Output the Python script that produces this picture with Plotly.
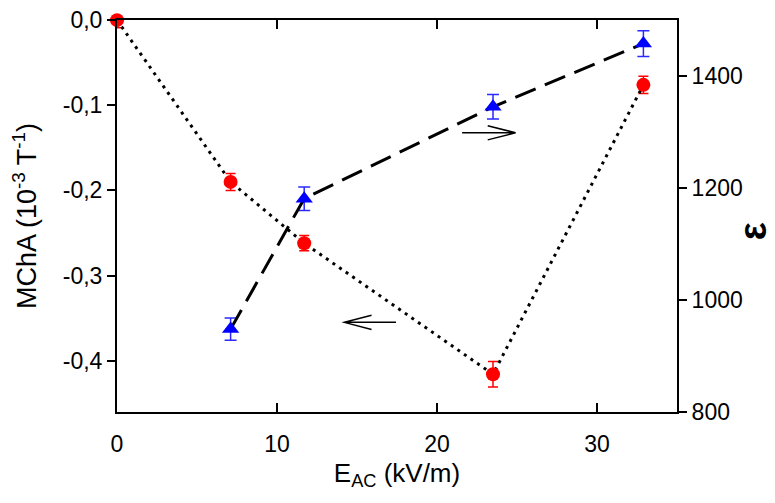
import plotly.graph_objects as go

# ---- data ----
e_ac = [0.0, 7.1, 11.7, 23.5, 32.9]
mcha = [0.0, -0.190, -0.262, -0.416, -0.076]
mcha_err = [0.009, 0.010, 0.009, 0.015, 0.010]

e_ac_eps = [7.1, 11.7, 23.5, 32.9]
eps = [948, 1181, 1345, 1458]
eps_err = [20, 21, 22, 23]

x_ticks = [0, 10, 20, 30]
x_ticktext = ["0", "10", "20", "30"]
y_ticks = [0.0, -0.1, -0.2, -0.3, -0.4]
y_ticktext = ["0,0", "-0,1", "-0,2", "-0,3", "-0,4"]
y2_ticks = [800, 1000, 1200, 1400]
y2_ticktext = ["800", "1000", "1200", "1400"]

# arrow annotations (data coords of left axis)
left_arrow = dict(x0=17.44, x1=14.21, y=-0.355, head=1.70, half=0.0083)
right_arrow = dict(x0=21.57, x1=24.91, y=-0.1323, head=1.74, half=0.0083)

FONT = "Liberation Sans, Arial, sans-serif"

fig = go.Figure()

fig.add_trace(go.Scatter(
    x=e_ac, y=mcha, mode="lines+markers", yaxis="y",
    line=dict(color="black", width=3, dash="3px,5px"),
    marker=dict(color="#ff0000", size=14, symbol="circle"),
    error_y=dict(type="data", array=mcha_err, color="#ff0000", thickness=1.5, width=5),
    cliponaxis=False, showlegend=False,
))

fig.add_trace(go.Scatter(
    x=e_ac_eps, y=eps, mode="lines+markers", yaxis="y2",
    line=dict(color="black", width=3, dash="22px,10px"),
    marker=dict(color="#0000ff", size=15, symbol="triangle-up"),
    error_y=dict(type="data", array=eps_err, color="#2a2aff", thickness=1.5, width=6),
    cliponaxis=False, showlegend=False,
))


def arrow_path(a):
    d = 1 if a["x1"] > a["x0"] else -1
    xb = a["x1"] - d * a["head"]
    return (f"M {a['x0']},{a['y']} L {a['x1']},{a['y']} "
            f"M {xb},{a['y'] + a['half']} L {a['x1']},{a['y']} L {xb},{a['y'] - a['half']}")


for a in (left_arrow, right_arrow):
    fig.add_shape(type="path", path=arrow_path(a), xref="x", yref="y",
                  line=dict(color="black", width=1.5))

fig.add_annotation(
    text="<b>ε</b>", xref="paper", yref="paper", x=1.135, y=0.46,
    xanchor="center", yanchor="middle",
    showarrow=False, textangle=-90, font=dict(family=FONT, size=38, color="black"),
)

# page body has an 8px margin, so the figure is sized/offset to compensate
fig.update_layout(
    width=759, height=487,
    margin=dict(l=109, r=90, t=12, b=83, autoexpand=False),
    paper_bgcolor="white", plot_bgcolor="white",
    font=dict(family=FONT, color="black"),
    showlegend=False,
    xaxis=dict(
        range=[0, 35], tickvals=x_ticks, ticktext=x_ticktext,
        ticks="inside", ticklen=9, tickwidth=1.5, tickcolor="black",
        showline=True, linewidth=2, linecolor="black", mirror="ticks",
        showgrid=False, zeroline=False, automargin=False,
        tickfont=dict(size=23), ticklabelstandoff=10,
        title=dict(text="E<sub>AC</sub> (kV/m)", font=dict(size=26), standoff=8),
    ),
    yaxis=dict(
        range=[-0.4603, 0.0002], tickvals=y_ticks, ticktext=y_ticktext,
        ticks="outside", ticklen=8, tickwidth=1.5, tickcolor="black",
        showline=True, linewidth=2, linecolor="black",
        showgrid=False, zeroline=False, automargin=False,
        tickfont=dict(size=23), ticklabeloverflow="allow",
        title=dict(text="MChA (10<sup>-3</sup> T<sup>-1</sup>)", font=dict(size=27), standoff=28),
    ),
    yaxis2=dict(
        range=[800, 1500], tickvals=y2_ticks, ticktext=y2_ticktext,
        overlaying="y", side="right",
        ticks="outside", ticklen=8, tickwidth=1.5, tickcolor="black",
        showline=True, linewidth=2, linecolor="black",
        showgrid=False, zeroline=False, automargin=False,
        tickfont=dict(size=23),
    ),
)

fig.write_html("out.html")
